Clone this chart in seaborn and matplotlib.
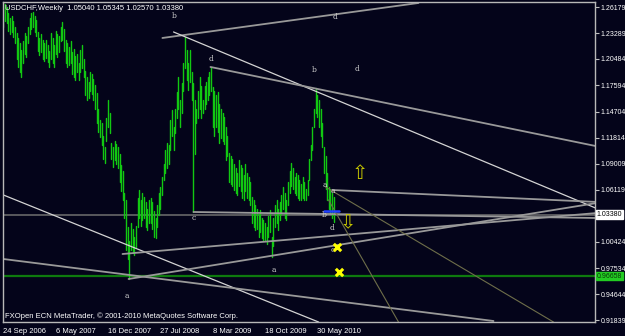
import matplotlib
matplotlib.use("Agg")
import matplotlib.pyplot as plt
import matplotlib.transforms as mtransforms
import numpy as np
import pandas as pd
import seaborn as sns

# ---------------- data ----------------
start_date = "2006-09-24"
highs = [
    1.266, 1.265, 1.262, 1.255, 1.250, 1.252, 1.246, 1.240, 1.233, 1.228,
    1.222, 1.215, 1.224, 1.233, 1.230, 1.240, 1.250, 1.255, 1.256, 1.252,
    1.248, 1.234, 1.228, 1.232, 1.226, 1.222, 1.226, 1.220, 1.214, 1.233,
    1.228, 1.220, 1.236, 1.232, 1.230, 1.240, 1.245, 1.238, 1.226, 1.222,
    1.218, 1.224, 1.212, 1.216, 1.208, 1.210, 1.200, 1.215, 1.220, 1.205,
    1.192, 1.185, 1.180, 1.190, 1.188, 1.183, 1.176, 1.167, 1.150, 1.138,
    1.135, 1.120, 1.108, 1.140, 1.160, 1.145, 1.113, 1.108, 1.115, 1.112,
    1.108, 1.100, 1.088, 1.082, 1.058, 1.050, 1.020, 1.005, 1.025, 1.018,
    1.010, 1.022, 1.052, 1.061, 1.050, 1.058, 1.053, 1.048, 1.040, 1.050,
    1.052, 1.048, 1.038, 1.030, 1.045, 1.058, 1.064, 1.075, 1.090, 1.105,
    1.113, 1.110, 1.138, 1.149, 1.130, 1.150, 1.168, 1.185, 1.160, 1.178,
    1.200, 1.229, 1.215, 1.200, 1.215, 1.190, 1.178, 1.160, 1.150, 1.170,
    1.185, 1.175, 1.160, 1.175, 1.180, 1.185, 1.190, 1.196, 1.174, 1.170,
    1.165, 1.168, 1.155, 1.150, 1.145, 1.141, 1.130, 1.120, 1.102, 1.098,
    1.095, 1.090, 1.085, 1.080, 1.094, 1.088, 1.085, 1.078, 1.090, 1.080,
    1.075, 1.070, 1.053, 1.050, 1.045, 1.040, 1.035, 1.039, 1.030, 1.028,
    1.025, 1.020, 1.032, 1.039, 1.010, 1.030, 1.045, 1.050, 1.040, 1.048,
    1.055, 1.064, 1.058, 1.050, 1.070, 1.082, 1.091, 1.085, 1.075, 1.080,
    1.078, 1.072, 1.068, 1.075, 1.070, 1.062, 1.072, 1.095, 1.110, 1.130,
    1.150, 1.173, 1.165, 1.160, 1.150, 1.135, 1.108, 1.098, 1.080, 1.064,
    1.062, 1.058, 1.05345,
]
lows = [
    1.240, 1.246, 1.244, 1.236, 1.232, 1.234, 1.229, 1.222, 1.205, 1.196,
    1.190, 1.185, 1.200, 1.210, 1.207, 1.222, 1.232, 1.238, 1.240, 1.234,
    1.230, 1.214, 1.209, 1.212, 1.205, 1.203, 1.206, 1.201, 1.196, 1.205,
    1.200, 1.196, 1.210, 1.207, 1.212, 1.224, 1.226, 1.214, 1.200, 1.196,
    1.198, 1.200, 1.188, 1.185, 1.182, 1.190, 1.182, 1.190, 1.195, 1.185,
    1.165, 1.160, 1.162, 1.170, 1.166, 1.160, 1.150, 1.135, 1.125, 1.119,
    1.110, 1.095, 1.091, 1.115, 1.130, 1.124, 1.095, 1.086, 1.094, 1.090,
    1.085, 1.070, 1.060, 1.050, 1.030, 0.995, 0.985, 0.9637, 0.995, 0.992,
    0.990, 0.998, 1.020, 1.030, 1.022, 1.028, 1.030, 1.020, 1.017, 1.025,
    1.025, 1.018, 1.010, 1.008, 1.020, 1.034, 1.040, 1.056, 1.072, 1.080,
    1.085, 1.090, 1.105, 1.120, 1.105, 1.124, 1.140, 1.150, 1.130, 1.145,
    1.170, 1.195, 1.182, 1.171, 1.180, 1.160, 1.037, 1.100, 1.135, 1.140,
    1.150, 1.140, 1.146, 1.150, 1.155, 1.160, 1.165, 1.170, 1.130, 1.120,
    1.130, 1.125, 1.113, 1.118, 1.115, 1.112, 1.094, 1.098, 1.070, 1.068,
    1.065, 1.061, 1.058, 1.055, 1.065, 1.060, 1.052, 1.050, 1.060, 1.052,
    1.050, 1.045, 1.025, 1.020, 1.017, 1.018, 1.010, 1.015, 1.008, 1.006,
    1.006, 1.002, 1.010, 1.015, 0.987, 1.000, 1.020, 1.025, 1.017, 1.028,
    1.035, 1.040, 1.030, 1.028, 1.045, 1.058, 1.065, 1.062, 1.058, 1.055,
    1.052, 1.050, 1.050, 1.052, 1.050, 1.050, 1.055, 1.072, 1.094, 1.105,
    1.130, 1.145, 1.141, 1.130, 1.120, 1.108, 1.080, 1.062, 1.050, 1.040,
    1.035, 1.030, 1.0257,
]
title_text = "USDCHF,Weekly  1.05040 1.05345 1.02570 1.03380"
copyright_text = "FXOpen ECN MetaTrader, \u00a9 2001-2010 MetaQuotes Software Corp."
bid_price = 1.03380
level_price = 0.96658
ytick_values = [1.26179, 1.23289, 1.20484, 1.17594, 1.14704, 1.11814, 1.09009,
                1.06119, 1.00424, 0.97534, 0.94644, 0.91839]
xtick_weeks = [0, 32, 64, 96, 128, 160, 192]
xtick_labels = ["24 Sep 2006", "6 May 2007", "16 Dec 2007", "27 Jul 2008",
                "8 Mar 2009", "18 Oct 2009", "30 May 2010"]

# trend lines (week index, price)
trend_w0 = [97.2, 104.0, 126.6, 0.0, 0.0, 72.8, 76.5, 116.2, 201.2]
trend_p0 = [1.2278, 1.2344, 1.1960, 1.0555, 0.9853, 0.9908, 0.9634, 1.0369, 1.0610]
trend_w1 = [253.8, 362.1, 362.1, 192.7, 299.7, 363.0, 363.0, 363.0, 363.0]
trend_p1 = [1.2662, 1.0413, 1.1093, 0.9162, 0.9173, 1.0358, 1.0468, 1.0303, 1.0479]
trend_kind = ["gray", "light", "gray", "light", "gray", "gray", "gray", "gray", "gray"]
thin_w0 = [197.0, 198.8]
thin_p0 = [1.0643, 1.0501]
thin_w1 = [336.4, 241.6]
thin_p1 = [0.9162, 0.9162]

label_text = ["b", "d", "d", "b", "d", "c", "a", "a", "a", "a", "b", "d", "c"]
label_w = [104.6, 203.1, 127.2, 190.2, 216.5, 116.2, 75.2, 165.1, 196.3, 201.2, 196.3, 201.2, 201.2]
label_p = [1.2519, 1.2508, 1.2047, 1.1927, 1.1938, 1.0303, 0.9447, 0.9733, 1.0665, 1.0599, 1.0336, 1.0193, 0.9952]

arrow_glyph = ["\u21e7", "\u21e9"]
arrow_w = [217.7, 210.4]
arrow_p = [1.0786, 1.0248]
cross_w = [203.7, 205.5]
cross_p = [0.9985, 0.9711]
blue_w = [196.3, 205.5]
blue_p = [1.0380, 1.0380]

# ---------------- style ----------------
BG = "#04041a"
GREEN = "#12c812"
sns.set_style("dark", rc={"axes.facecolor": BG, "figure.facecolor": BG,
                          "axes.edgecolor": "#b8b8b8", "text.color": "white",
                          "xtick.color": "white", "ytick.color": "white"})
plt.rcParams["font.family"] = ["Liberation Sans", "DejaVu Sans"]

fig = plt.figure(figsize=(6.25, 3.36), dpi=100)
W, H = 625, 336
ax = fig.add_axes([3 / W, (H - 322) / H, (595 - 3) / W, (322 - 2) / H])
ax.set_facecolor(BG)

n = len(highs)
weeks = np.arange(n)
bars = pd.DataFrame({
    "week": np.concatenate([weeks, weeks]),
    "price": np.concatenate([highs, lows]),
})
sns.lineplot(data=bars, x="week", y="price", units="week", estimator=None,
             color=GREEN, lw=1.0, ax=ax, legend=False)

# horizontal levels
ax.axhline(level_price, color="#0e7a0e", lw=1.6, zorder=1)
ax.axhline(bid_price, color="#707070", lw=1.1, zorder=1)

# trend lines
for w0, p0, w1, p1, k in zip(trend_w0, trend_p0, trend_w1, trend_p1, trend_kind):
    seg = pd.DataFrame({"week": [w0, w1], "price": [p0, p1]})
    if k == "light":
        sns.lineplot(data=seg, x="week", y="price", color="#d4d4d4", lw=0.9, ax=ax)
    else:
        sns.lineplot(data=seg, x="week", y="price", color="#999999", lw=1.3, ax=ax)
for w0, p0, w1, p1 in zip(thin_w0, thin_p0, thin_w1, thin_p1):
    seg = pd.DataFrame({"week": [w0, w1], "price": [p0, p1]})
    sns.lineplot(data=seg, x="week", y="price", color="#6e6e4a", lw=0.8, ax=ax)

sns.lineplot(x=blue_w, y=blue_p, color="#2040ff", lw=1.8, ax=ax)

# labels
for t, w, p in zip(label_text, label_w, label_p):
    ax.text(w, p, t, color="#d0d0d0", fontsize=5.5, ha="center", va="center",
            family=["DejaVu Serif"])
for g, w, p in zip(arrow_glyph, arrow_w, arrow_p):
    ax.text(w, p, g, color="#c8c800", fontsize=14, ha="center", va="center",
            family=["DejaVu Sans"])
sns.scatterplot(x=cross_w, y=cross_p, marker="x", s=28, color="#ffff00",
                linewidth=2.2, ax=ax, zorder=5)

# axes
ax.set_xlim(-0.3, 361.8)
ax.set_ylim(1.26179 - (322 - 7) / 911.5, 1.26179 + 5 / 911.5)
ax.set_xlabel("")
ax.set_ylabel("")
ax.yaxis.tick_right()
ax.set_yticks(ytick_values)
ax.set_yticklabels([f"{v:.5f}" for v in ytick_values], fontsize=5.0, color="white")
ax.tick_params(axis="y", length=3, width=0.8, color="#c0c0c0", pad=1.0)
ax.set_xticks(xtick_weeks)
ax.set_xticklabels(xtick_labels, fontsize=5.5, color="white")
for lab in ax.get_xticklabels():
    lab.set_horizontalalignment("left")
ax.tick_params(axis="x", length=3, width=0.8, color="#c0c0c0", pad=1.5)
for s in ax.spines.values():
    s.set_color("#b8b8b8")
    s.set_linewidth(1.0)
ax.grid(False)

trans = mtransforms.blended_transform_factory(ax.transAxes, ax.transData)
ax.text(1.003, bid_price, f"{bid_price:.5f}", transform=trans, fontsize=5.0,
        color="black", va="center", ha="left",
        bbox=dict(boxstyle="square,pad=0.12", fc="white", ec="white"))
ax.text(1.003, level_price, f"{level_price:.5f}", transform=trans, fontsize=5.0,
        color="#0a3a0a", va="center", ha="left",
        bbox=dict(boxstyle="square,pad=0.12", fc="#22cc22", ec="#22cc22"))

fig.text(5 / W, 1 - 8 / H, title_text, fontsize=5.5, color="white", va="center", ha="left")
fig.text(5 / W, 1 - 316 / H, copyright_text, fontsize=5.5, color="white", va="center", ha="left")

fig.savefig("out.png", dpi=100, facecolor=BG)
